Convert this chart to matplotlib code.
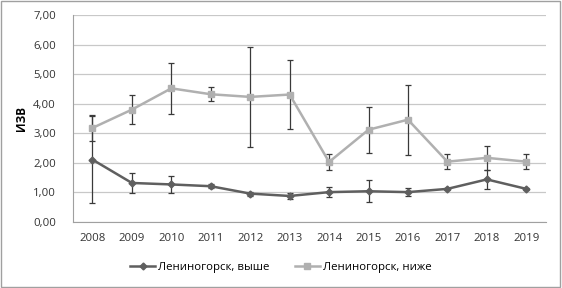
import numpy as np
import matplotlib.pyplot as plt
from matplotlib.patches import Rectangle
from matplotlib.ticker import FuncFormatter

years = ["2008", "2009", "2010", "2011", "2012", "2013",
         "2014", "2015", "2016", "2017", "2018", "2019"]

# Лениногорск, выше
upper = [2.11, 1.32, 1.27, 1.21, 0.96, 0.88, 1.01, 1.04, 1.01, 1.12, 1.44, 1.12]
upper_err = [1.48, 0.34, 0.30, 0.07, 0.07, 0.10, 0.16, 0.37, 0.14, 0.03, 0.31, 0.03]

# Лениногорск, ниже
lower = [3.18, 3.80, 4.52, 4.32, 4.23, 4.31, 2.03, 3.12, 3.46, 2.04, 2.17, 2.04]
lower_err = [0.44, 0.50, 0.86, 0.23, 1.69, 1.18, 0.26, 0.78, 1.18, 0.25, 0.40, 0.26]

plt.rcParams['font.family'] = ['Open Sans', 'DejaVu Sans']

fig = plt.figure(figsize=(5.62, 2.88), dpi=100)
ax = fig.add_axes([0.1294, 0.2292, 0.8421, 0.7187])

x = np.arange(len(years))

ax.errorbar(x, lower, yerr=lower_err, fmt='none', ecolor='#3a3a3a',
            elinewidth=0.9, capsize=2.5, capthick=0.9, zorder=2)
ax.errorbar(x, upper, yerr=upper_err, fmt='none', ecolor='#3a3a3a',
            elinewidth=0.9, capsize=2.5, capthick=0.9, zorder=2)

ax.plot(x, upper, color='#5f5f5f', lw=1.8, marker='D', ms=3.5,
        label='Лениногорск, выше', zorder=3)
ax.plot(x, lower, color='#b0b0b0', lw=1.8, marker='s', ms=5,
        label='Лениногорск, ниже', zorder=3)

ax.set_xlim(-0.5, len(years) - 0.5)
ax.set_ylim(0, 7)
ax.set_yticks(np.arange(0, 8, 1))
ax.yaxis.set_major_formatter(FuncFormatter(lambda v, p: f"{v:.2f}".replace('.', ',')))
ax.set_xticks(x)
ax.set_xticklabels(years)
ax.tick_params(length=0, labelsize=8.2, colors='#333333', pad=8)
ax.tick_params(axis='y', pad=12)

ax.grid(axis='y', color='#c8c8c8', lw=0.9)
ax.set_axisbelow(True)
for s in ['top', 'right']:
    ax.spines[s].set_visible(False)
ax.spines['left'].set_color('#a0a0a0')
ax.spines['bottom'].set_color('#a0a0a0')

ax.set_ylabel('ИЗВ', fontsize=8.5, fontweight='bold', labelpad=4)

fig.legend(loc='center', bbox_to_anchor=(0.5, 0.072), ncol=2, frameon=False,
           fontsize=8.2, handlelength=2.2, columnspacing=2.2, handletextpad=0.3)

fig.patches.append(Rectangle((0.002, 0.004), 0.995, 0.992, transform=fig.transFigure,
                             fill=False, edgecolor='#a0a0a0', lw=1))

fig.savefig('out.png', dpi=100)
